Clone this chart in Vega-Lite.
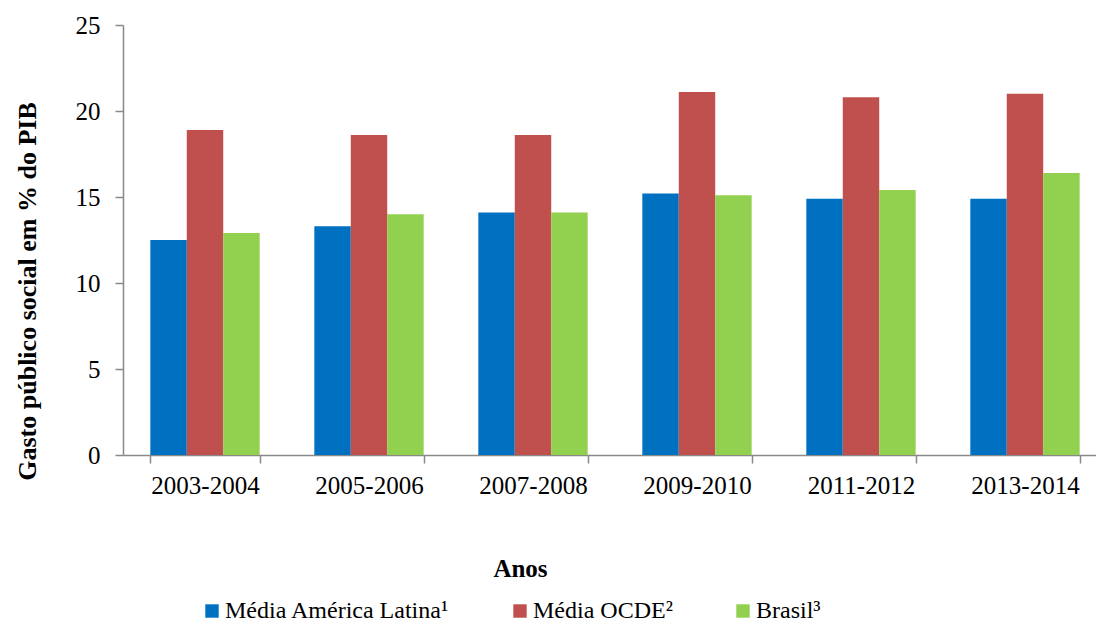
{
  "$schema": "https://vega.github.io/schema/vega-lite/v6.json",
  "autosize": {"type": "none"},
  "padding": {"left": 123, "top": 25, "right": -11, "bottom": 171},
  "width": 984,
  "height": 430,
  "background": "white",
  "config": {
    "view": {"stroke": null},
    "font": "Times New Roman, Liberation Serif, serif",
    "axis": {"labelFont": "Times New Roman, Liberation Serif, serif", "titleFont": "Times New Roman, Liberation Serif, serif"},
    "legend": {"labelFont": "Times New Roman, Liberation Serif, serif"}
  },
  "data": {
    "values": [
      {"periodo": "2003-2004", "serie": "Média América Latina¹", "valor": 12.5},
      {"periodo": "2003-2004", "serie": "Média OCDE²", "valor": 18.9},
      {"periodo": "2003-2004", "serie": "Brasil³", "valor": 12.9},
      {"periodo": "2005-2006", "serie": "Média América Latina¹", "valor": 13.3},
      {"periodo": "2005-2006", "serie": "Média OCDE²", "valor": 18.6},
      {"periodo": "2005-2006", "serie": "Brasil³", "valor": 14.0},
      {"periodo": "2007-2008", "serie": "Média América Latina¹", "valor": 14.1},
      {"periodo": "2007-2008", "serie": "Média OCDE²", "valor": 18.6},
      {"periodo": "2007-2008", "serie": "Brasil³", "valor": 14.1},
      {"periodo": "2009-2010", "serie": "Média América Latina¹", "valor": 15.2},
      {"periodo": "2009-2010", "serie": "Média OCDE²", "valor": 21.1},
      {"periodo": "2009-2010", "serie": "Brasil³", "valor": 15.1},
      {"periodo": "2011-2012", "serie": "Média América Latina¹", "valor": 14.9},
      {"periodo": "2011-2012", "serie": "Média OCDE²", "valor": 20.8},
      {"periodo": "2011-2012", "serie": "Brasil³", "valor": 15.4},
      {"periodo": "2013-2014", "serie": "Média América Latina¹", "valor": 14.9},
      {"periodo": "2013-2014", "serie": "Média OCDE²", "valor": 21.0},
      {"periodo": "2013-2014", "serie": "Brasil³", "valor": 16.4}
    ]
  },
  "mark": {"type": "bar"},
  "encoding": {
    "x": {
      "field": "periodo",
      "type": "nominal",
      "sort": null,
      "title": "Anos",
      "scale": {"paddingInner": 0.3333, "paddingOuter": 0.1667},
      "axis": {
        "labelAngle": 0,
        "labelFontSize": 25,
        "labelColor": "black",
        "labelPadding": 10,
        "domainColor": "#898989",
        "domainWidth": 1.5,
        "tickColor": "#898989",
        "tickWidth": 1.5,
        "tickSize": 8,
        "tickBand": "extent",
        "titleFontSize": 25,
        "titleFontWeight": "bold",
        "titleColor": "black",
        "titleX": 397,
        "titleY": 113,
        "titleAlign": "center",
        "titleBaseline": "middle"
      }
    },
    "xOffset": {
      "field": "serie",
      "sort": ["Média América Latina¹", "Média OCDE²", "Brasil³"],
      "scale": {"paddingInner": 0, "paddingOuter": 0}
    },
    "y": {
      "field": "valor",
      "type": "quantitative",
      "title": "Gasto público social em % do PIB",
      "scale": {"domain": [0, 25]},
      "axis": {
        "values": [0, 5, 10, 15, 20, 25],
        "grid": false,
        "labelFontSize": 25,
        "labelColor": "black",
        "labelPadding": 15,
        "domainColor": "#898989",
        "domainWidth": 1.5,
        "tickColor": "#898989",
        "tickWidth": 1.5,
        "tickSize": 8,
        "titleFontSize": 26,
        "titleFontWeight": "bold",
        "titleColor": "black",
        "titleX": -96,
        "titleY": 266,
        "titleAlign": "center",
        "titleBaseline": "middle"
      }
    },
    "color": {
      "field": "serie",
      "type": "nominal",
      "sort": ["Média América Latina¹", "Média OCDE²", "Brasil³"],
      "scale": {
        "domain": ["Média América Latina¹", "Média OCDE²", "Brasil³"],
        "range": ["#0070C0", "#C0504D", "#92D050"]
      },
      "legend": {
        "title": null,
        "orient": "none",
        "direction": "horizontal",
        "legendX": 77,
        "legendY": 574,
        "symbolType": "square",
        "symbolSize": 180,
        "symbolStrokeWidth": 0,
        "symbolOpacity": 1,
        "labelFont": "Times New Roman, Liberation Serif, serif",
        "labelFontSize": 24,
        "labelColor": "black",
        "labelOffset": 1,
        "labelLimit": 500,
        "columnPadding": 58
      }
    }
  }
}
